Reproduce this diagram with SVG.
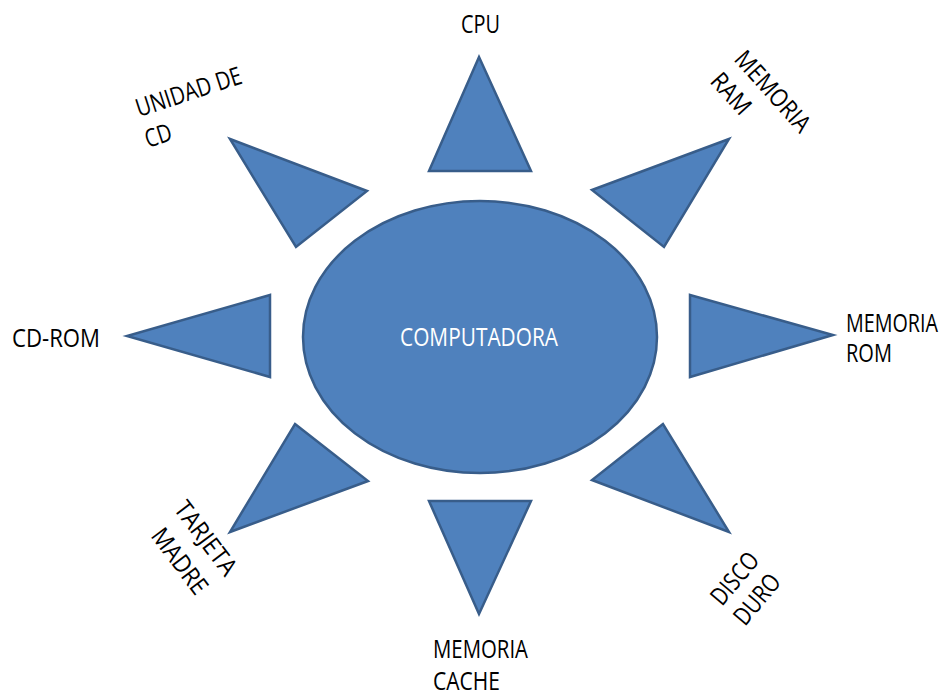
<svg xmlns="http://www.w3.org/2000/svg" width="949" height="696" viewBox="0 0 949 696">
  <style>
    .shape { fill: #4F81BD; stroke: #385D8A; stroke-width: 2.5; stroke-linejoin: miter; }
    .lbl { font-family: "Open Sans", "Noto Sans", "Liberation Sans", sans-serif; font-size: 25px; fill: #000; }
    .center { fill: #FFFFFF; text-anchor: middle; }
  </style>
  <rect width="949" height="696" fill="#FFFFFF"/>

  <!-- central node -->
  <g id="computadora">
    <ellipse class="shape" cx="480" cy="337" rx="177" ry="136"/>
    <text class="lbl center" x="479" y="346" textLength="158" lengthAdjust="spacingAndGlyphs">COMPUTADORA</text>
  </g>

  <!-- rays around the center -->
  <g id="cpu">
    <polygon class="shape" points="479,57 531,171 429,171"/>
    <text class="lbl" x="461" y="33" textLength="39" lengthAdjust="spacingAndGlyphs">CPU</text>
  </g>

  <g id="memoria-ram">
    <polygon class="shape" points="729,139 592,190 664,247"/>
    <g transform="rotate(48 733 60)">
      <text class="lbl" x="733" y="60" textLength="100" lengthAdjust="spacingAndGlyphs">MEMORIA</text>
    </g>
    <g transform="rotate(48 709 82)">
      <text class="lbl" x="709" y="82" textLength="47" lengthAdjust="spacingAndGlyphs">RAM</text>
    </g>
  </g>

  <g id="memoria-rom">
    <polygon class="shape" points="690,295 833,335 690,377"/>
    <text class="lbl" x="846" y="332" textLength="92" lengthAdjust="spacingAndGlyphs">MEMORIA</text>
    <text class="lbl" x="846" y="362" textLength="46" lengthAdjust="spacingAndGlyphs">ROM</text>
  </g>

  <g id="disco-duro">
    <polygon class="shape" points="663,424 592,480 729,532"/>
    <g transform="rotate(-50 722 607)">
      <text class="lbl" x="722" y="607" textLength="60" lengthAdjust="spacingAndGlyphs">DISCO</text>
    </g>
    <g transform="rotate(-50 745 627)">
      <text class="lbl" x="745" y="627" textLength="58" lengthAdjust="spacingAndGlyphs">DURO</text>
    </g>
  </g>

  <g id="memoria-cache">
    <polygon class="shape" points="429,501 531,501 479,614"/>
    <text class="lbl" x="433" y="658" textLength="95" lengthAdjust="spacingAndGlyphs">MEMORIA</text>
    <text class="lbl" x="433" y="690" textLength="67" lengthAdjust="spacingAndGlyphs">CACHE</text>
  </g>

  <g id="tarjeta-madre">
    <polygon class="shape" points="295,424 368,481 230,532"/>
    <g transform="rotate(53 173 509)">
      <text class="lbl" x="173" y="509" textLength="86" lengthAdjust="spacingAndGlyphs">TARJETA</text>
    </g>
    <g transform="rotate(53 150 536)">
      <text class="lbl" x="150" y="536" textLength="76" lengthAdjust="spacingAndGlyphs">MADRE</text>
    </g>
  </g>

  <g id="cd-rom">
    <polygon class="shape" points="270,295 127,336 270,377"/>
    <text class="lbl" x="12" y="347" textLength="88" lengthAdjust="spacingAndGlyphs">CD-ROM</text>
  </g>

  <g id="unidad-de-cd">
    <polygon class="shape" points="230,139 367,191 296,247"/>
    <g transform="rotate(-18 139 117)">
      <text class="lbl" x="139" y="117" textLength="110" lengthAdjust="spacingAndGlyphs">UNIDAD DE</text>
    </g>
    <g transform="rotate(-18 148 148)">
      <text class="lbl" x="148" y="148" textLength="27" lengthAdjust="spacingAndGlyphs">CD</text>
    </g>
  </g>
</svg>
